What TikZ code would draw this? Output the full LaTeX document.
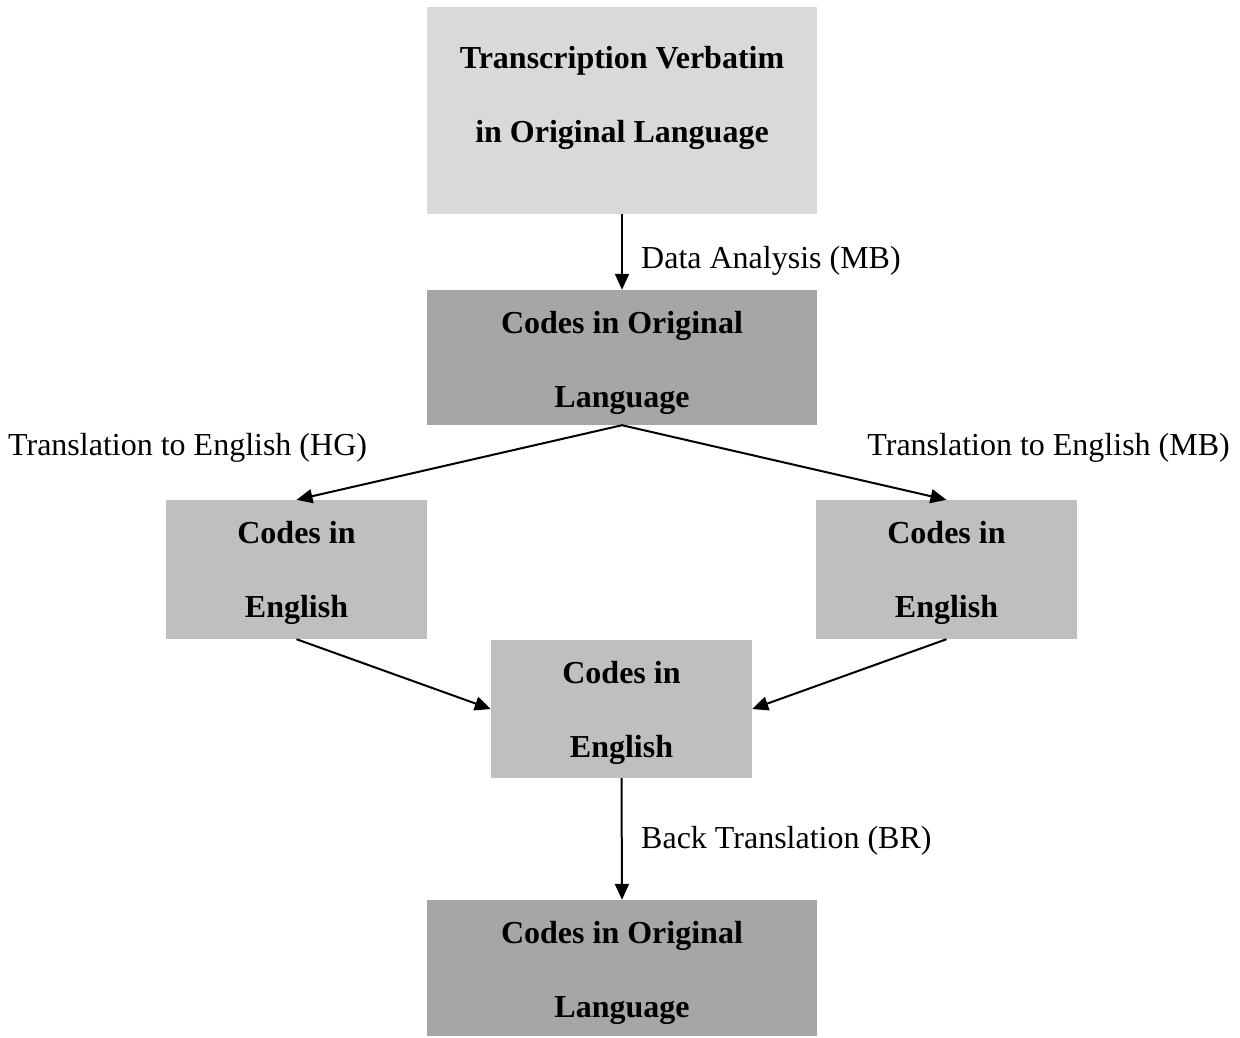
\documentclass[tikz,border=0pt]{standalone}
\usepackage{fontspec}
\setmainfont{Liberation Serif}
\usetikzlibrary{arrows.meta}
\definecolor{lightbox}{HTML}{D9D9D9}
\definecolor{darkbox}{HTML}{A6A6A6}
\definecolor{midbox}{HTML}{BFBFBF}
\begin{document}
\begin{tikzpicture}[x=1pt,y=-1pt,
  box/.style={inner sep=0pt, anchor=center},
  btext/.style={inner sep=0pt, align=center, font=\fontsize{32}{74}\selectfont\bfseries},
  conn/.style={line width=2pt, -{Triangle[length=16pt,width=14pt]}},
  lbl/.style={font=\fontsize{32}{38}\selectfont, inner sep=0pt}]
\useasboundingbox (0,0) rectangle (1240,1037);
\node[box, fill=lightbox, minimum width=390pt, minimum height=207pt,
  label={[btext, yshift=13pt]center:{Transcription Verbatim\\in Original Language}}] (top) at (622,110.5) {};
\node[box, fill=darkbox, minimum width=390pt, minimum height=135pt,
  label={[btext, yshift=-5pt]center:{Codes in Original\\Language}}] (orig) at (622,357.5) {};
\node[box, fill=midbox, minimum width=261pt, minimum height=139pt,
  label={[btext, yshift=-3.5pt]center:{Codes in\\English}}] (left) at (296.5,569.5) {};
\node[box, fill=midbox, minimum width=261pt, minimum height=139pt,
  label={[btext, yshift=-3.5pt]center:{Codes in\\English}}] (right) at (946.5,569.5) {};
\node[box, fill=midbox, minimum width=261pt, minimum height=138pt,
  label={[btext, yshift=-3.5pt]center:{Codes in\\English}}] (mid) at (621.5,709) {};
\node[box, fill=darkbox, minimum width=390pt, minimum height=136pt,
  label={[btext, yshift=-5pt]center:{Codes in Original\\Language}}] (bot) at (622,968) {};
\draw[conn] (top.south) -- (orig.north);
\draw[conn] (orig.south) -- (left.north);
\draw[conn] (orig.south) -- (right.north);
\draw[conn] (left.south) -- (mid.west);
\draw[conn] (right.south) -- (mid.east);
\draw[conn] (mid.south) -- (bot.north);
\node[lbl, anchor=west] (l1) at (641,261) {Data Analysis (MB)};
\node[lbl, anchor=west] (l2) at (8,448) {Translation to English (HG)};
\node[lbl, anchor=east] (l3) at (1230,448) {Translation to English (MB)};
\node[lbl, anchor=west] (l4) at (641,841) {Back Translation (BR)};
\end{tikzpicture}
\end{document}
